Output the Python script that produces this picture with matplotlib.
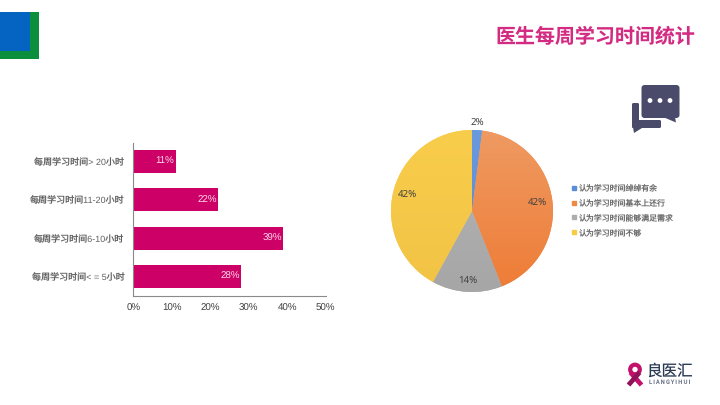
import matplotlib
matplotlib.use('Agg')
import numpy as np
import matplotlib.pyplot as plt
from matplotlib.colors import LinearSegmentedColormap
from matplotlib.lines import Line2D
from matplotlib.patches import Circle, FancyBboxPatch, Polygon, Rectangle

W, H = 720, 405
CJK = ['Noto Sans CJK SC', 'DejaVu Sans']
LATIN = ['Liberation Sans', 'Noto Sans CJK SC']

title = '医生每周学习时间统计'

hours = ['每周学习时间< = 5小时', '每周学习时间6-10小时', '每周学习时间11-20小时', '每周学习时间> 20小时']
hours_pct = [28, 39, 22, 11]
x_ticks = [0, 10, 20, 30, 40, 50]

opinions = ['认为学习时间绰绰有余', '认为学习时间基本上还行', '认为学习时间能够满足需求', '认为学习时间不够']
opinions_pct = [2, 42, 14, 42]
opinion_colors = ['#5b8ed6', '#ee8a45', '#aeaeae', '#f7ca48']
opinion_top = ['#6a9ade', '#ef9a62', '#b6b6b6', '#f9cd4c']
opinion_bottom = ['#5585cf', '#ee7c36', '#a6a6a6', '#f2c345']
label_dist = [1.10, 0.81, 0.86, 0.82]

plt.rcParams['font.family'] = CJK
plt.rcParams['text.hinting'] = 'none'
fig = plt.figure(figsize=(W / 100, H / 100), dpi=100, facecolor='white')


def axes_px(x0, y0, x1, y1):
    # pixel box measured from the top left corner
    return fig.add_axes([x0 / W, 1 - y1 / H, (x1 - x0) / W, (y1 - y0) / H])


# full page layer for the logo, icon and title
page = axes_px(0, 0, W, H)
page.set_xlim(0, W)
page.set_ylim(H, 0)
page.axis('off')

page.add_patch(Rectangle((0, 12), 39, 47, color='#0b8f3c', lw=0))
page.add_patch(Rectangle((0, 12), 30, 39, color='#0563c1', lw=0))
page.text(695, 37, title, color='#d32b82', fontsize=14.4, fontweight='bold',
          ha='right', va='center')

# speech bubbles
icon = '#4a4b6b'
page.add_patch(FancyBboxPatch((632, 103), 7, 25, boxstyle='round,pad=0,rounding_size=1.5', color=icon, lw=0))
page.add_patch(FancyBboxPatch((632, 120), 29, 8, boxstyle='round,pad=0,rounding_size=1.5', color=icon, lw=0))
page.add_patch(Polygon([(633, 127), (642, 128), (634, 133)], color=icon, lw=0))
page.add_patch(FancyBboxPatch((641.5, 85), 38, 33, boxstyle='round,pad=0,rounding_size=3', color=icon, lw=0))
page.add_patch(Polygon([(663, 117), (675, 117), (676, 122.5)], color=icon, lw=0))
for cx in [650, 660, 670]:
    page.add_patch(Circle((cx, 100.5), 2.4, color='white', lw=0))

# ribbon logo
ribbon = '#c3106c'
page.add_patch(Circle((635, 369.5), 4.8, facecolor='none', edgecolor=ribbon, lw=3))
page.plot([630.5, 641.5], [372.5, 385], color=ribbon, lw=3.4, solid_capstyle='butt')
page.plot([639.5, 628.5], [372.5, 385], color='#8f1358', lw=3.4, solid_capstyle='butt')
page.text(670, 371, '良医汇', color='#2b3a55', fontsize=11.2, ha='center', va='center')
page.text(670, 382, 'L I A N G Y I H U I', color='#6a7388', fontsize=4, ha='center', va='center')

# horizontal bars
ax = axes_px(133.3, 142.5, 325.5, 295.5)
bars = ax.barh(hours, hours_pct, height=0.6, color='#cc0066')
ax.bar_label(bars, labels=[f'{v}%' for v in hours_pct], padding=-14.5, color='#ffd9ec',
             fontsize=7, family=LATIN)
ax.set_xlim(0, 50)
ax.set_ylim(-0.5, 3.5)
ax.set_xticks(x_ticks)
ax.set_xticklabels([f'{t}%' for t in x_ticks], family=LATIN)
ax.tick_params(axis='both', length=0, labelsize=6.5)
ax.tick_params(axis='x', pad=6, labelsize=7, labelcolor='#404040')
ax.tick_params(axis='y', pad=6.5, labelcolor='#606060')
for side in ['top', 'right']:
    ax.spines[side].set_visible(False)
for side in ['left', 'bottom']:
    ax.spines[side].set_color('#8a8a8a')
    ax.spines[side].set_linewidth(0.8)
for lab in ax.get_yticklabels():
    lab.set_family(LATIN)

# pie, clockwise from twelve o'clock
pie_ax = axes_px(391, 130, 553, 292)
wedges, _ = pie_ax.pie(opinions_pct, colors=opinion_colors, startangle=90, counterclock=False, radius=1)
for w, top, bottom, pct, dist in zip(wedges, opinion_top, opinion_bottom, opinions_pct, label_dist):
    # soft vertical shading on each slice
    cmap = LinearSegmentedColormap.from_list('shade', [top, bottom])
    im = pie_ax.imshow(np.linspace(0, 1, 64).reshape(-1, 1), cmap=cmap, extent=(-1, 1, -1, 1),
                       origin='upper', aspect='auto', zorder=2)
    im.set_clip_path(w)
    mid = np.radians((w.theta1 + w.theta2) / 2)
    pie_ax.text(dist * np.cos(mid), dist * np.sin(mid), f'{pct}%', ha='center', va='center',
                fontsize=7, color='#404040', zorder=3, family=['Noto Sans', 'DejaVu Sans'])
pie_ax.set_xlim(-1, 1)
pie_ax.set_ylim(-1, 1)
pie_ax.set_aspect('equal')

handles = [Line2D([], [], marker='s', ls='', ms=3.2, color=c) for c in opinion_colors]
fig.legend(handles, opinions, loc='center left', bbox_to_anchor=(570 / W, 1 - 210.5 / H), frameon=False,
           fontsize=5.7, labelcolor='#6a6a6a', handlelength=1, handletextpad=0.1, labelspacing=0.8,
           borderpad=0, borderaxespad=0)

fig.savefig('out.png', dpi=100)
